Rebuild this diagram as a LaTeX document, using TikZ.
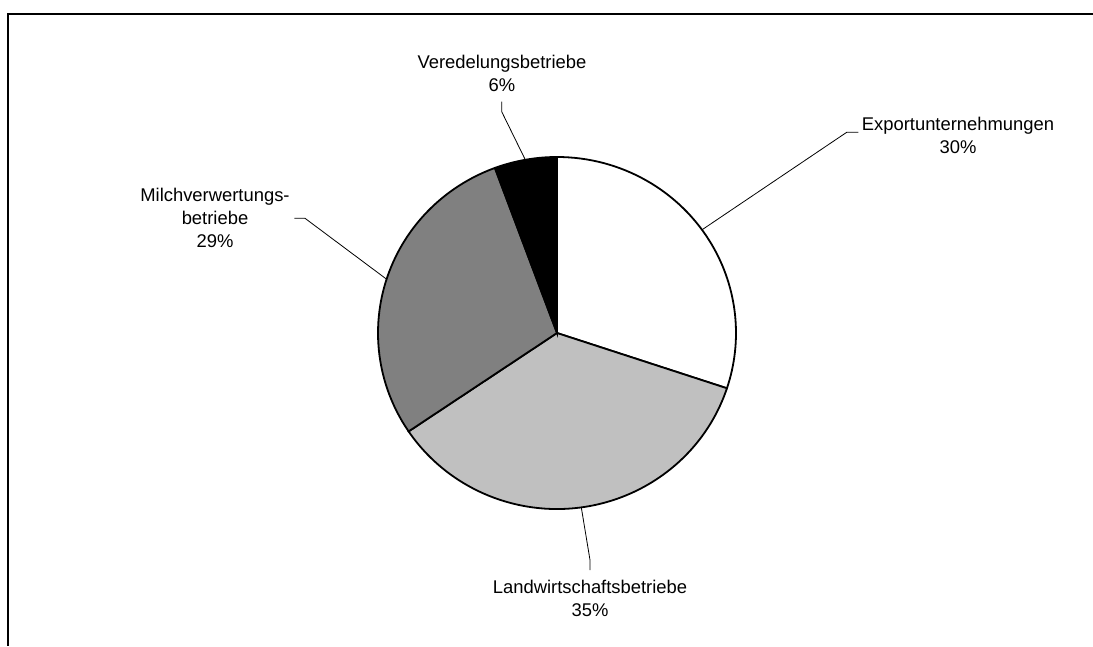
\documentclass[tikz,border=0pt]{standalone}
\usepackage{fontspec}
\setmainfont{Liberation Sans}
\definecolor{sliceLight}{RGB}{192,192,192}
\definecolor{sliceMid}{RGB}{128,128,128}
\begin{document}
\begin{tikzpicture}[x=1pt,y=1pt,
  slice/.style={draw=black,line width=1.8pt,line join=miter},
  leader/.style={draw=black,line width=0.8pt},
  lbl/.style={align=center,inner sep=0pt,font=\fontsize{18.4}{23}\selectfont},
  frameline/.style={draw=black,line width=1.6pt}]
\useasboundingbox (0,0) rectangle (1093,646);
% chart frame (only top and left edges visible)
\draw[frameline] (1093,632) -- (8,632) -- (8,0);
% pie: centre and radii
\def\cx{557}\def\cy{313}\def\rx{179}\def\ry{176}
\coordinate (c) at (\cx,\cy);
% slices, clockwise from 12 o'clock
\filldraw[slice,fill=white] (c) -- ({\cx+\rx*cos(90)},{\cy+\ry*sin(90)})
  arc[start angle=90,end angle=-18.3,x radius=\rx,y radius=\ry] -- cycle;
\filldraw[slice,fill=sliceLight] (c) -- ({\cx+\rx*cos(-18.3)},{\cy+\ry*sin(-18.3)})
  arc[start angle=-18.3,end angle=-146,x radius=\rx,y radius=\ry] -- cycle;
\filldraw[slice,fill=sliceMid] (c) -- ({\cx+\rx*cos(-146)},{\cy+\ry*sin(-146)})
  arc[start angle=-146,end angle=-249.7,x radius=\rx,y radius=\ry] -- cycle;
\filldraw[slice,fill=black] (c) -- ({\cx+\rx*cos(110.3)},{\cy+\ry*sin(110.3)})
  arc[start angle=110.3,end angle=90,x radius=\rx,y radius=\ry] -- cycle;
% labels
\node[lbl] (ver) at (502,572.5) {Veredelungsbetriebe\\6\%};
\node[lbl] (exp) at (958,511) {Exportunternehmungen\\30\%};
\node[lbl] (milch) at (215,428) {Milchverwertungs-\\betriebe\\29\%};
\node[lbl] (land) at (590,48) {Landwirtschaftsbetriebe\\35\%};
% leader lines: point on slice edge, bend, end beside label
\coordinate (verP) at ({\cx+\rx*cos(100.2)},{\cy+\ry*sin(100.2)});
\coordinate (verB) at (501.7,534.3);
\coordinate (verE) at (501.7,544.3);
\coordinate (expP) at ({\cx+\rx*cos(35.9)},{\cy+\ry*sin(35.9)});
\coordinate (expB) at (846.7,513.7);
\coordinate (expE) at (858.3,513.7);
\coordinate (milP) at ({\cx+\rx*cos(162.2)},{\cy+\ry*sin(162.2)});
\coordinate (milB) at (305,427.7);
\coordinate (milE) at (294.3,427.7);
\coordinate (lanP) at ({\cx+\rx*cos(-82.2)},{\cy+\ry*sin(-82.2)});
\coordinate (lanB) at (590,86);
\coordinate (lanE) at (590,76);
\draw[leader] (verP) -- (verB) -- (verE);
\draw[leader] (expP) -- (expB) -- (expE);
\draw[leader] (milP) -- (milB) -- (milE);
\draw[leader] (lanP) -- (lanB) -- (lanE);
\end{tikzpicture}
\end{document}
